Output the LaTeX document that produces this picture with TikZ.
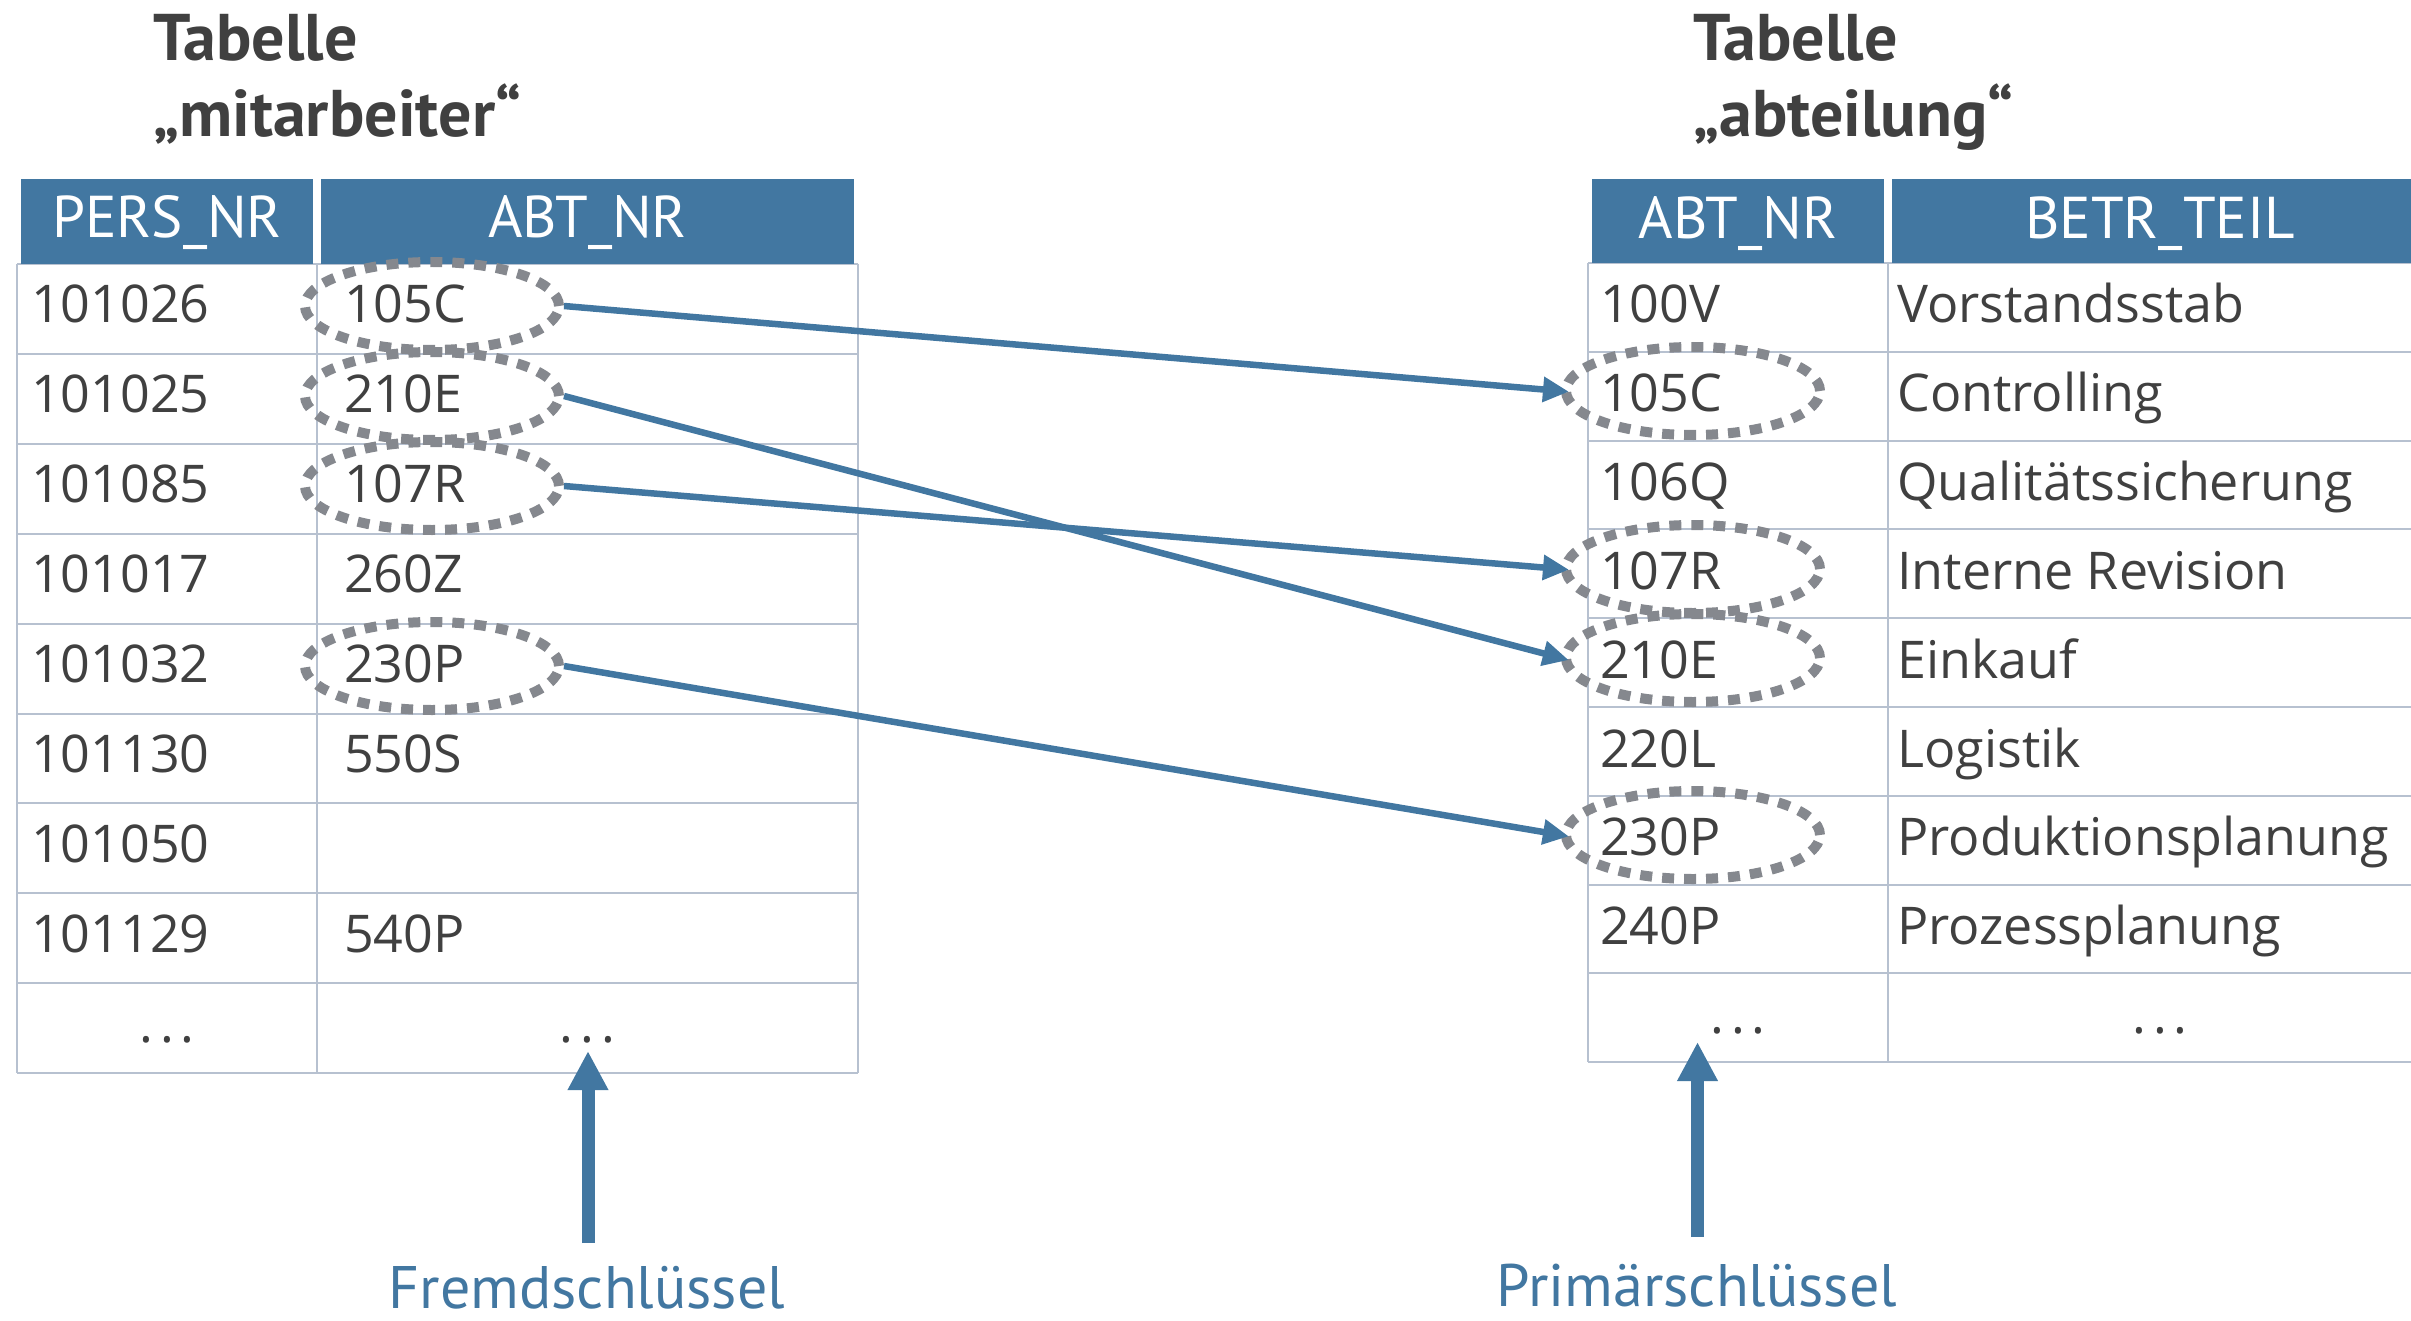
\documentclass[tikz,border=0pt]{standalone}
\usepackage{fontspec}
\setmainfont{PT Sans}
\newfontfamily\bodyfont{Open Sans}
\usetikzlibrary{shapes.geometric,arrows.meta}
\definecolor{hblue}{HTML}{4277A1}
\definecolor{tgray}{HTML}{404040}
\definecolor{gridc}{HTML}{B7C1D0}
\definecolor{dgray}{HTML}{85888E}
\newcommand{\tdots}{.\hspace{7pt}.\hspace{7pt}.}
\begin{document}
\begin{tikzpicture}[x=1pt,y=-1pt,
  cell/.style={anchor=base west, inner sep=0pt, text=tgray, font=\bodyfont\fontsize{52}{60}\selectfont},
  cellc/.style={anchor=base, inner sep=0pt, text=tgray, font=\bodyfont\fontsize{52}{60}\selectfont},
  hdr/.style={anchor=base, inner sep=0pt, text=white, font=\fontsize{59}{66}\selectfont},
  ttl/.style={anchor=base west, inner sep=0pt, text=tgray, font=\bfseries\fontsize{66}{72}\selectfont},
  keyell/.style={ellipse, draw=dgray, line width=10pt, dash pattern=on 12pt off 10pt, minimum width=254pt, minimum height=88pt, inner sep=0pt},
  link/.style={draw=hblue, line width=6.5pt, -{Triangle[length=26pt,width=24pt]}, shorten >=-8pt},
  bigarrow/.style={draw=hblue, line width=13pt, -{Triangle[length=39pt,width=38pt]}},
  lbl/.style={anchor=base, inner sep=0pt, text depth=0pt, text=hblue, font=\fontsize{60}{66}\selectfont},
  gridline/.style={draw=gridc, line width=2pt}
]
\useasboundingbox (0,0) rectangle (2411,1321);
\clip (0,0) rectangle (2411,1321);

% titles
\node[ttl] (t1a) at (153,61) {Tabelle};
\node[ttl] (t1b) at (153,137) {„mitarbeiter“};
\node[ttl] (t2a) at (1693,61) {Tabelle};
\node[ttl] (t2b) at (1693,137) {„abteilung“};

% left table grid
\foreach \k in {0,...,9} \draw[gridline] (17,{264+89.9*\k}) -- (858,{264+89.9*\k});
\foreach \xx in {17,317,858} \draw[gridline] (\xx,264) -- (\xx,1073);
% right table grid
\foreach \k in {0,...,9} \draw[gridline] (1588,{263+88.8*\k}) -- (2440,{263+88.8*\k});
\foreach \xx in {1588,1888} \draw[gridline] (\xx,263) -- (\xx,1062);

% headers
\fill[hblue] (21,179) rectangle (313,264);
\fill[hblue] (321,179) rectangle (854,264);
\fill[hblue] (1592,179) rectangle (1884,263);
\fill[hblue] (1892,179) rectangle (2440,263);
\node[hdr] (hL1) at (167,238) {PERS\_NR};
\node[hdr] (hL2) at (587.5,238) {ABT\_NR};
\node[hdr] (hR1) at (1738,239) {ABT\_NR};
\node[hdr] (hR2) at (2160,239) {BETR\_TEIL};

% left rows
\foreach \a/\b [count=\i] in {101026/105C,101025/210E,101085/107R,101017/260Z,101032/230P,101130/550S,101050/{},101129/540P}{
  \node[cell] (La\i) at (31,{233.1+89.9*\i}) {\a};
  \node[cell] (Lb\i) at (344,{233.1+89.9*\i}) {\b};
}
\node[cellc] (La9) at (167,1042) {\tdots};
\node[cellc] (Lb9) at (587.5,1042) {\tdots};

% right rows
\foreach \a/\b [count=\i] in {100V/Vorstandsstab,105C/Controlling,106Q/Qualitätssicherung,107R/Interne Revision,210E/Einkauf,220L/Logistik,230P/Produktionsplanung,240P/Prozessplanung}{
  \node[cell] (Ra\i) at (1600,{234.2+88.8*\i}) {\a};
  \node[cell] (Rb\i) at (1897,{234.2+88.8*\i}) {\b};
}
\node[cellc] (Ra9) at (1738,1033) {\tdots};
\node[cellc] (Rb9) at (2160,1033) {\tdots};

% key ellipses
\node[keyell] (ek1) at (432,306) {};
\node[keyell] (ek2) at (432,396) {};
\node[keyell] (ek3) at (432,486) {};
\node[keyell] (ek5) at (432,666) {};
\node[keyell] (pk2) at (1693,391) {};
\node[keyell] (pk4) at (1693,569) {};
\node[keyell] (pk5) at (1693,658) {};
\node[keyell] (pk7) at (1693,835) {};

% links
\draw[link] (ek1.east) -- (pk2.west);
\draw[link] (ek2.east) -- (pk5.west);
\draw[link] (ek3.east) -- (pk4.west);
\draw[link] (ek5.east) -- (pk7.west);

% key labels
\node[lbl] (fk) at (587,1308) {Fremdschlüssel};
\node[lbl] (pk) at (1697,1306) {Primärschlüssel};
\coordinate (fkA) at (588,1243);
\coordinate (fkT) at (588,1051);
\coordinate (pkA) at (1697.5,1237);
\coordinate (pkT) at (1697.5,1042);
\draw[bigarrow] (fkA) -- (fkT);
\draw[bigarrow] (pkA) -- (pkT);
\end{tikzpicture}
\end{document}
